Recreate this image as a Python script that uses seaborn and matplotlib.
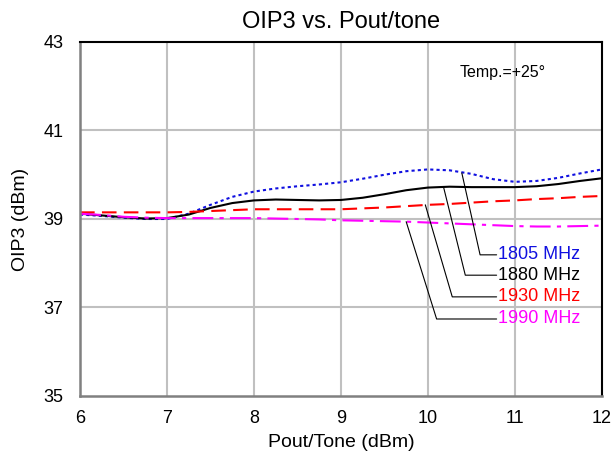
import numpy as np
import pandas as pd
import matplotlib
matplotlib.use("Agg")
import matplotlib.pyplot as plt
import seaborn as sns

# values
pout = [6.0, 6.25, 6.5, 6.75, 7.0, 7.25, 7.5, 7.75, 8.0, 8.25, 8.5, 8.75, 9.0,
        9.25, 9.5, 9.75, 10.0, 10.25, 10.5, 10.75, 11.0, 11.25, 11.5, 11.75, 12.0]
oip3_1805 = [39.10, 39.07, 39.03, 39.00, 39.00, 39.12, 39.32, 39.50, 39.62, 39.69, 39.74, 39.78, 39.83,
             39.91, 40.00, 40.08, 40.12, 40.10, 40.02, 39.90, 39.84, 39.86, 39.93, 40.03, 40.12]
oip3_1880 = [39.12, 39.08, 39.04, 39.01, 39.02, 39.10, 39.25, 39.36, 39.42, 39.44, 39.43, 39.42, 39.43,
             39.48, 39.56, 39.65, 39.71, 39.73, 39.72, 39.72, 39.72, 39.74, 39.79, 39.86, 39.92]
oip3_1930 = [39.15, 39.15, 39.15, 39.15, 39.15, 39.16, 39.18, 39.20, 39.22, 39.22, 39.22, 39.22, 39.22,
             39.24, 39.26, 39.29, 39.32, 39.34, 39.37, 39.40, 39.42, 39.45, 39.47, 39.50, 39.52]
oip3_1990 = [39.12, 39.09, 39.05, 39.03, 39.02, 39.02, 39.02, 39.02, 39.02, 39.01, 39.00, 38.99, 38.97,
             38.96, 38.95, 38.94, 38.92, 38.90, 38.88, 38.86, 38.84, 38.83, 38.83, 38.84, 38.85]

labels = ["1805 MHz", "1880 MHz", "1930 MHz", "1990 MHz"]
colors = ["#1010e0", "#000000", "#ff0000", "#ff00ff"]
styles = [(0, (1.5, 1.5)), "-", (0, (7, 3.5)), (0, (10, 3, 2, 3))]
# leader lines: point on curve -> elbow -> label
leader_start = [(10.39, 40.04), (10.18, 39.72), (9.97, 39.32), (9.75, 38.94)]
leader_elbow = [(10.60, 38.19), (10.43, 37.73), (10.28, 37.24), (10.10, 36.74)]
label_x = 10.79

df = pd.DataFrame({"pout": pout, labels[0]: oip3_1805, labels[1]: oip3_1880,
                   labels[2]: oip3_1930, labels[3]: oip3_1990})
long_df = df.melt(id_vars="pout", var_name="freq", value_name="oip3")

sns.set_theme(style="white")
plt.rcParams["font.family"] = ["Liberation Sans", "DejaVu Sans"]
plt.rcParams["text.color"] = "black"
plt.rcParams["axes.labelcolor"] = "black"
plt.rcParams["xtick.color"] = "black"
plt.rcParams["ytick.color"] = "black"

fig = plt.figure(figsize=(6.16, 4.55), dpi=100)
ax = fig.add_axes([0.13, 0.1297, 0.847, 0.778])

for lab, col, ls in zip(labels, colors, styles):
    sub = long_df[long_df["freq"] == lab]
    sns.lineplot(data=sub, x="pout", y="oip3", ax=ax, color=col, linestyle=ls,
                 linewidth=1.5, legend=False)

for lab, col, s, e in zip(labels, colors, leader_start, leader_elbow):
    ax.plot([s[0], e[0], label_x], [s[1], e[1], e[1]], color="black", linewidth=0.8)
    ax.text(label_x + 0.02, e[1], lab, color=col, fontsize=13, va="center", ha="left")

ax.text(10.37, 42.3, "Temp.=+25°", fontsize=11.5, va="center", ha="left")

ax.set_xlim(6, 12)
ax.set_ylim(35, 43)
ax.set_xticks(range(6, 13))
ax.set_yticks([35, 37, 39, 41, 43])
ax.grid(False)
for xv in range(7, 12):
    ax.axvline(xv, color="#c0c0c0", linewidth=1.5, zorder=0)
for yv in [37, 39, 41]:
    ax.axhline(yv, color="#c0c0c0", linewidth=1.5, zorder=0)

ax.tick_params(axis="both", labelsize=13, length=0, labelcolor="black")
ax.tick_params(axis="y", pad=12)
ax.tick_params(axis="x", pad=10)
ax.set_xlabel("Pout/Tone (dBm)", fontsize=14, labelpad=5)
ax.set_ylabel("OIP3 (dBm)", fontsize=14, labelpad=10)
ax.set_title("OIP3 vs. Pout/tone", fontsize=17, pad=10)

for side in ["top", "right"]:
    ax.spines[side].set_color("black")
    ax.spines[side].set_linewidth(1.5)
for side in ["left", "bottom"]:
    ax.spines[side].set_color("#808080")
    ax.spines[side].set_linewidth(1.8)

fig.savefig("out.png", dpi=100)
